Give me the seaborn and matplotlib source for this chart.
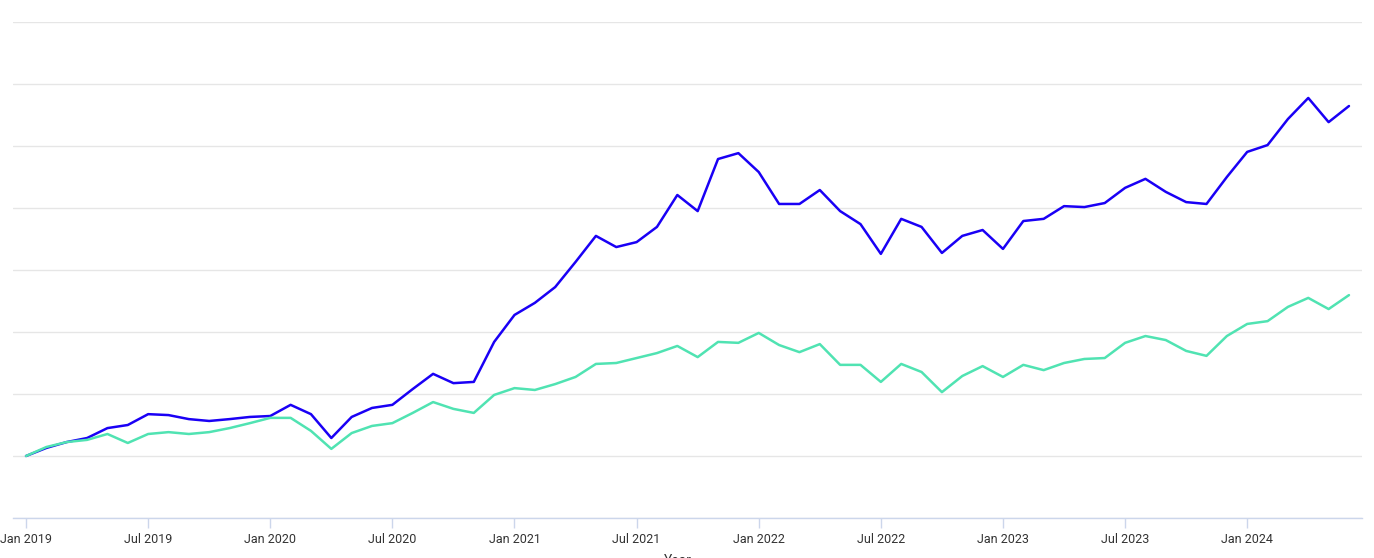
"""
plot.py
=======
Two cumulative index series, monthly Jan 2019 – Jun 2024 (start = 100).
"""

import matplotlib.pyplot as plt
import numpy as np
import pandas as pd
import seaborn as sns

# --- data -------------------------------------------------------------------
MONTHS = pd.date_range("2019-01-01", "2024-06-01", freq="MS")

SERIES_A = [
    100.0, 102.6, 104.5, 105.8, 109.0, 110.0, 113.5, 113.2, 111.9, 111.3,
    111.9, 112.6, 112.9, 116.5, 113.5, 105.8, 112.6, 115.5, 116.5, 121.6,
    126.5, 123.5, 123.9, 136.8, 145.5, 149.4, 154.5, 162.6, 171.0, 167.4,
    169.0, 173.9, 184.2, 179.0, 195.8, 197.7, 191.6, 181.3, 181.3, 185.8,
    179.0, 174.8, 165.2, 176.5, 173.9, 165.5, 171.0, 172.9, 166.8, 175.8,
    176.5, 180.6, 180.3, 181.6, 186.5, 189.4, 185.2, 181.9, 181.3, 190.0,
    198.1, 200.3, 208.7, 215.5, 207.7, 212.9,
]
SERIES_B = [
    100.0, 102.9, 104.5, 105.2, 107.1, 104.2, 107.1, 107.7, 107.1, 107.7,
    109.0, 110.6, 112.3, 112.3, 108.1, 102.3, 107.4, 109.7, 110.6, 113.9,
    117.4, 115.2, 113.9, 119.7, 121.9, 121.3, 123.2, 125.5, 129.7, 130.0,
    131.6, 133.2, 135.5, 131.9, 136.8, 136.5, 139.7, 135.8, 133.5, 136.1,
    129.4, 129.4, 123.9, 129.7, 127.1, 120.6, 125.8, 129.0, 125.5, 129.4,
    127.7, 130.0, 131.3, 131.6, 136.5, 138.7, 137.4, 133.9, 132.3, 138.7,
    142.6, 143.5, 148.1, 151.0, 147.4, 151.9,
]
SERIES_NAMES = ["Series A", "Series B"]
COLORS = {"Series A": "#1a00f5", "Series B": "#50e3b2"}

Y_GRID = [80, 100, 120, 140, 160, 180, 200, 220, 240]
TICK_STEP = 6  # months between labelled ticks

# --- styling ----------------------------------------------------------------
sns.set_theme(style="white")
plt.rcParams["font.family"] = ["Roboto", "DejaVu Sans"]

df = pd.DataFrame({
    "month": np.tile(np.arange(len(MONTHS)), 2),
    "value": SERIES_A + SERIES_B,
    "series": np.repeat(SERIES_NAMES, len(MONTHS)),
})

fig = plt.figure(figsize=(13.74, 5.58), dpi=100)
ax = fig.add_axes([13 / 1374, 40 / 558, 1349 / 1374, 496 / 558])

sns.lineplot(
    data=df, x="month", y="value", hue="series",
    palette=COLORS, linewidth=1.8, legend=False, ax=ax,
)

n = len(MONTHS)
ax.set_xlim(-0.64, n - 1 + 0.64)
ax.set_ylim(Y_GRID[0], Y_GRID[-1])
ax.set_yticks(Y_GRID)
ax.set_yticklabels([])
ax.tick_params(axis="y", length=0)
ax.grid(axis="y", color="#e6e6e6", linewidth=1)
ax.set_axisbelow(True)

tick_pos = np.arange(0, n, TICK_STEP)
ax.set_xticks(tick_pos)
ax.set_xticklabels([MONTHS[i].strftime("%b %Y") for i in tick_pos])
ax.tick_params(axis="x", bottom=True, direction="out", length=7, width=1,
               color="#ccd6eb", labelsize=9, labelcolor="#333333", pad=4)

for side in ["left", "right", "top"]:
    ax.spines[side].set_visible(False)
ax.spines["bottom"].set_color("#ccd6eb")
ax.spines["bottom"].set_linewidth(1)

ax.set_ylabel("")
ax.set_xlabel("Year", fontsize=10, color="#333333")
ax.xaxis.set_label_coords(0.493, -0.072)

fig.savefig("out.png", dpi=100)
plt.close(fig)
